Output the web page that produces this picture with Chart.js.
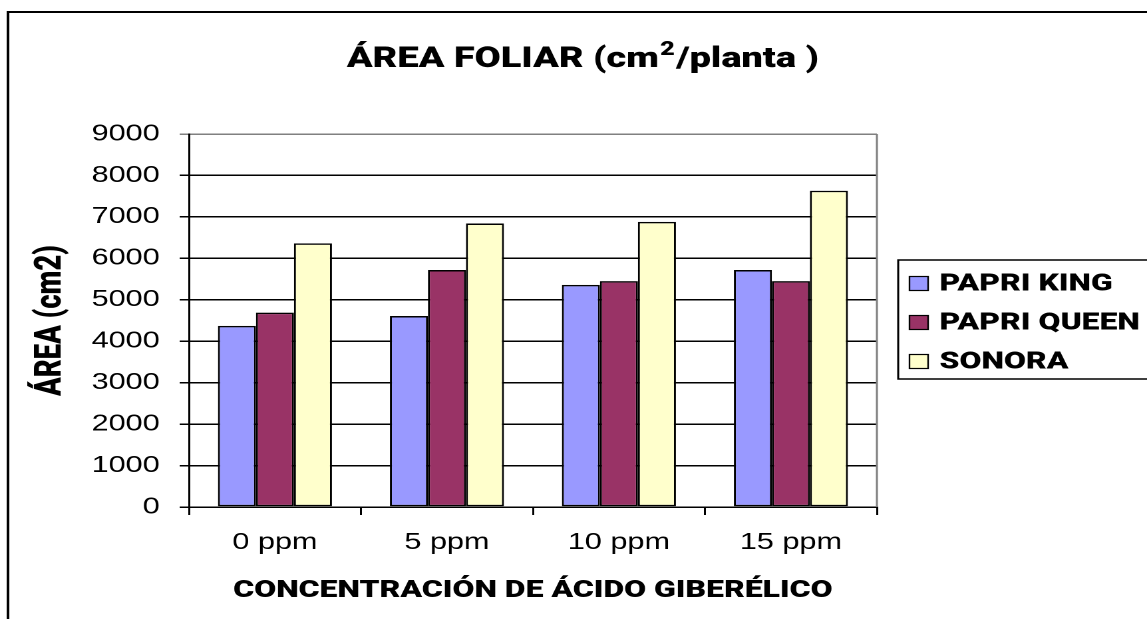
<!DOCTYPE html>
<html>
<head>
<meta charset="utf-8">
<script src="https://cdn.jsdelivr.net/npm/chart.js@4.4.1/dist/chart.umd.min.js"></script>
<style>
  html, body { margin: 0; padding: 0; background: #fff; overflow: hidden; }
  /* the reference is stretched sideways, so the canvas is drawn narrow and widened by css */
  #chart { display: block; width: 1147px; height: 619px; }
</style>
</head>
<body>
<canvas id="chart" width="862" height="619" style="width:1147px;height:619px"></canvas>
<script>
const categories = ["0 ppm", "5 ppm", "10 ppm", "15 ppm"];
const seriesNames = ["PAPRI KING", "PAPRI QUEEN", "SONORA"];
const papriKing = [4370, 4610, 5360, 5720];
const papriQueen = [4690, 5720, 5450, 5450];
const sonora = [6360, 6840, 6880, 7630];
const yMin = 0, yMax = 9000, yStep = 1000;

const chartTitle = ["ÁREA FOLIAR (cm", "2", "/planta )"];
const xTitle = "CONCENTRACIÓN DE ÁCIDO GIBERÉLICO";
const yTitle = "ÁREA (cm2)";

const colors = ["#9999FF", "#993366", "#FFFFCC"];
const heavy = (px) => `900 ${px}px Roboto, Lato, "DejaVu Sans", sans-serif`;

// frame, title, axis titles, legend box
const decor = {
  id: "decor",
  beforeDraw(chart) {
    const { ctx } = chart;
    ctx.save();
    ctx.fillStyle = "#fff";
    ctx.fillRect(0, 0, chart.width, chart.height);
    ctx.restore();
  },
  afterDraw(chart) {
    const { ctx, chartArea: a } = chart;
    ctx.save();

    // plot area right border (grey)
    ctx.strokeStyle = "#808080";
    ctx.lineWidth = 1.5;
    ctx.beginPath();
    ctx.moveTo(a.right, a.top);
    ctx.lineTo(a.right, a.bottom);
    ctx.stroke();

    // outer frame, runs off right and bottom
    ctx.strokeStyle = "#000";
    ctx.lineWidth = 2;
    ctx.strokeRect(6, 12, chart.width + 20, chart.height + 20);

    // title with superscript
    ctx.fillStyle = "#000";
    ctx.textBaseline = "alphabetic";
    ctx.textAlign = "left";
    const big = heavy(28.5), sup = heavy(19);
    ctx.font = big;
    const w0 = ctx.measureText(chartTitle[0]).width;
    const w2 = ctx.measureText(chartTitle[2]).width;
    ctx.font = sup;
    const w1 = ctx.measureText(chartTitle[1]).width;
    let x = 438 - (w0 + w1 + w2 + 2) / 2;
    const base = 67;
    ctx.font = big;
    ctx.fillText(chartTitle[0], x, base);
    x += w0 + 1;
    ctx.font = sup;
    ctx.fillText(chartTitle[1], x, base - 12);
    x += w1 + 1;
    ctx.font = big;
    ctx.fillText(chartTitle[2], x, base);

    // x axis title
    ctx.font = heavy(24);
    ctx.textAlign = "center";
    ctx.fillText(xTitle, (a.left + a.right) / 2, 597);

    // y axis title
    ctx.save();
    ctx.translate(38.5, (a.top + a.bottom) / 2);
    ctx.rotate(-Math.PI / 2);
    ctx.textBaseline = "middle";
    ctx.font = heavy(27.5);
    ctx.fillText(yTitle, 0, 0);
    ctx.restore();

    // legend
    ctx.strokeStyle = "#000";
    ctx.lineWidth = 1.5;
    ctx.strokeRect(675, 260, 300, 119);
    ctx.font = heavy(24);
    ctx.textAlign = "left";
    ctx.textBaseline = "middle";
    chart.data.datasets.forEach((ds, i) => {
      const cy = 283.5 + i * 39;
      ctx.fillStyle = ds.backgroundColor;
      ctx.fillRect(683.5, cy - 7, 14, 14);
      ctx.lineWidth = 1.2;
      ctx.strokeRect(683.5, cy - 7, 14, 14);
      ctx.fillStyle = "#000";
      ctx.fillText(ds.label, 706, cy + 1);
    });

    ctx.restore();
  }
};

const seriesData = [papriKing, papriQueen, sonora];

new Chart(document.getElementById("chart"), {
  type: "bar",
  data: {
    labels: categories,
    datasets: seriesNames.map((name, i) => ({
      label: name,
      data: seriesData[i],
      backgroundColor: colors[i],
      borderColor: "#000",
      borderWidth: 1.5,
      borderSkipped: false,
      categoryPercentage: 0.663,
      barPercentage: 1.0,
    })),
  },
  options: {
    responsive: false,
    animation: false,
    devicePixelRatio: 2,
    layout: { padding: { left: 0, top: 134, right: 203, bottom: 0 } },
    plugins: {
      legend: { display: false },
      title: { display: false },
      tooltip: { enabled: false },
    },
    scales: {
      x: {
        afterFit: (s) => { s.height = 112; },
        grid: {
          drawOnChartArea: false,
          drawTicks: true,
          tickLength: 8,
          color: "#000",
          lineWidth: 1.5,
        },
        border: { color: "#000", width: 1.5 },
        ticks: {
          color: "#000",
          padding: 14,
          font: { family: '"Liberation Sans", Arial, sans-serif', size: 23 },
        },
      },
      y: {
        min: yMin,
        max: yMax,
        afterFit: (s) => { s.width = 142; },
        grid: {
          color: (c) => (c.tick && c.tick.value === yMax ? "#808080" : "#000"),
          lineWidth: 1.5,
          tickLength: 7,
        },
        border: { color: "#000", width: 1.5 },
        ticks: {
          stepSize: yStep,
          color: "#000",
          padding: 15,
          callback: (v) => String(v),
          font: { family: '"Liberation Sans", Arial, sans-serif', size: 23 },
        },
      },
    },
  },
  plugins: [decor],
});
</script>
</body>
</html>
